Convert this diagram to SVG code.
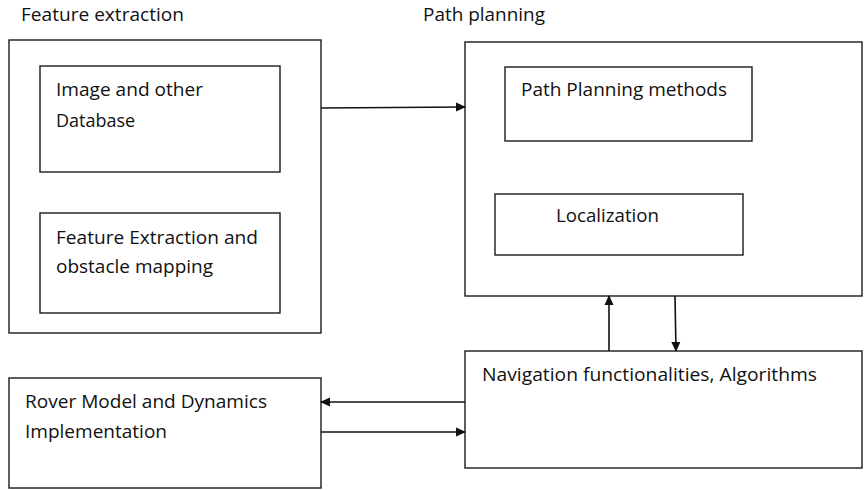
<svg xmlns="http://www.w3.org/2000/svg" width="865" height="490" viewBox="0 0 865 490">
<style>
.box{fill:#fff;stroke:#1a1a1a;stroke-width:1.4}
.t{font-family:"Open Sans",Lato,"Liberation Sans",sans-serif;font-size:18px;fill:#111}
.c{stroke:#111;stroke-width:1.6;fill:none;marker-end:url(#ah)}
</style>
<defs>
<marker id="ah" markerWidth="10" markerHeight="10" refX="9" refY="5" orient="auto" markerUnits="userSpaceOnUse">
<path d="M0,0.5 L10,5 L0,9.5 Z" fill="#111"/>
</marker>
</defs>
<rect width="865" height="490" fill="#fff"/>
<text class="t" x="21" y="21" textLength="163" lengthAdjust="spacingAndGlyphs">Feature extraction</text>
<text class="t" x="423" y="21" textLength="122" lengthAdjust="spacingAndGlyphs">Path planning</text>
<g id="feature-extraction">
<rect class="box" x="9" y="40" width="312" height="293"/>
</g>
<g id="image-db">
<rect class="box" x="40" y="66" width="240" height="106"/>
<text class="t" x="56" y="96" textLength="147" lengthAdjust="spacingAndGlyphs">Image and other</text>
<text class="t" x="56" y="127">Database</text>
</g>
<g id="feature-mapping">
<rect class="box" x="40" y="213" width="240" height="100"/>
<text class="t" x="56" y="244" textLength="202" lengthAdjust="spacingAndGlyphs">Feature Extraction and</text>
<text class="t" x="56" y="273" textLength="157" lengthAdjust="spacingAndGlyphs">obstacle mapping</text>
</g>
<g id="path-planning">
<rect class="box" x="465" y="42" width="397" height="254"/>
</g>
<g id="path-methods">
<rect class="box" x="505" y="67" width="247" height="74"/>
<text class="t" x="521" y="96" textLength="206" lengthAdjust="spacingAndGlyphs">Path Planning methods</text>
</g>
<g id="localization">
<rect class="box" x="495" y="194" width="248" height="61"/>
<text class="t" x="556" y="222" textLength="103" lengthAdjust="spacingAndGlyphs">Localization</text>
</g>
<g id="navigation">
<rect class="box" x="465" y="351" width="397" height="117"/>
<text class="t" x="482" y="381" textLength="335" lengthAdjust="spacingAndGlyphs">Navigation functionalities, Algorithms</text>
</g>
<g id="rover">
<rect class="box" x="9" y="378" width="312" height="110"/>
<text class="t" x="25" y="408" textLength="242" lengthAdjust="spacingAndGlyphs">Rover Model and Dynamics</text>
<text class="t" x="25" y="438" textLength="142" lengthAdjust="spacingAndGlyphs">Implementation</text>
</g>
<g id="connectors">
<path class="c" d="M321,108 L465,107"/>
<path class="c" d="M609,351 L609,296"/>
<path class="c" d="M675,296 L676,351"/>
<path class="c" d="M465,402 L321,402"/>
<path class="c" d="M321,432 L465,432"/>
</g>
</svg>
